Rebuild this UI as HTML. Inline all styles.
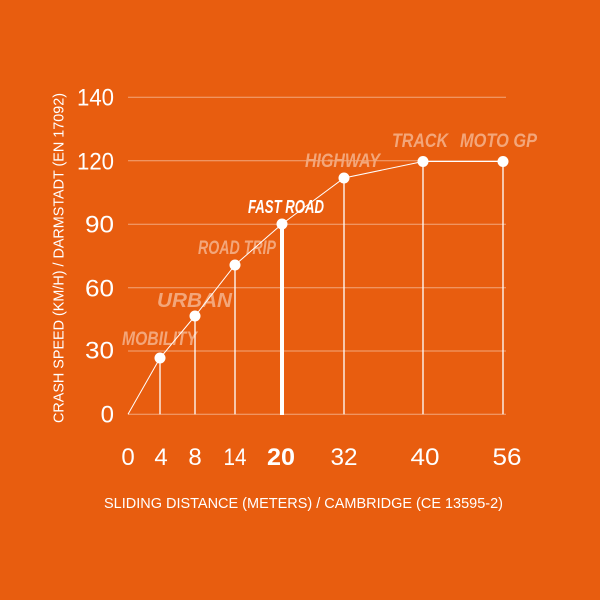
<!DOCTYPE html>
<html><head><meta charset="utf-8"><style>
html,body{margin:0;padding:0;background:#E85D0F;}
svg{display:block;}
</style></head><body>
<svg width="600" height="600" viewBox="0 0 600 600" xmlns="http://www.w3.org/2000/svg">
<rect width="600" height="600" fill="#E85D0F"/>
<g stroke="#ffffff" stroke-opacity="0.45" stroke-width="1">
<line x1="128" y1="97.3" x2="506" y2="97.3"/>
<line x1="128" y1="160.7" x2="506" y2="160.7"/>
<line x1="128" y1="224.3" x2="506" y2="224.3"/>
<line x1="128" y1="287.7" x2="506" y2="287.7"/>
<line x1="128" y1="351" x2="506" y2="351"/>
<line x1="128" y1="414.3" x2="506" y2="414.3"/>
</g>
<g font-family="Liberation Sans, sans-serif" font-size="24" fill="#ffffff" text-anchor="end">
<text x="114" y="105.5" textLength="37" lengthAdjust="spacingAndGlyphs">140</text>
<text x="114" y="169.5" textLength="37" lengthAdjust="spacingAndGlyphs">120</text>
<text x="114" y="232.5" textLength="29" lengthAdjust="spacingAndGlyphs">90</text>
<text x="114" y="296.5" textLength="29" lengthAdjust="spacingAndGlyphs">60</text>
<text x="114" y="358.5" textLength="29" lengthAdjust="spacingAndGlyphs">30</text>
<text x="114" y="422.5">0</text>
</g>
<g font-family="Liberation Sans, sans-serif" font-size="24" fill="#ffffff" text-anchor="middle">
<text x="128" y="465">0</text>
<text x="161" y="465">4</text>
<text x="195" y="465">8</text>
<text x="235" y="465" textLength="23" lengthAdjust="spacingAndGlyphs">14</text>
<text x="281" y="465" font-weight="bold" textLength="28" lengthAdjust="spacingAndGlyphs">20</text>
<text x="344" y="465" textLength="27" lengthAdjust="spacingAndGlyphs">32</text>
<text x="425" y="465" textLength="29" lengthAdjust="spacingAndGlyphs">40</text>
<text x="507" y="465" textLength="29" lengthAdjust="spacingAndGlyphs">56</text>
</g>
<text x="104" y="508" font-family="Liberation Sans, sans-serif" font-size="15" fill="#ffffff" textLength="399" lengthAdjust="spacingAndGlyphs">SLIDING DISTANCE (METERS) / CAMBRIDGE (CE 13595-2)</text>
<text transform="translate(63.5,423) rotate(-90)" x="0" y="0" font-family="Liberation Sans, sans-serif" font-size="15" fill="#ffffff" textLength="330" lengthAdjust="spacingAndGlyphs">CRASH SPEED (KM/H) / DARMSTADT (EN 17092)</text>
<g font-family="Liberation Sans, sans-serif" font-size="19" font-weight="bold" font-style="italic" fill="#F3A67A">
<text x="122" y="345" textLength="75" lengthAdjust="spacingAndGlyphs">MOBILITY</text>
<text x="157" y="307" font-size="20" textLength="75" lengthAdjust="spacingAndGlyphs">URBAN</text>
<text x="198" y="254" textLength="78" lengthAdjust="spacingAndGlyphs">ROAD TRIP</text>
<text x="248" y="213" fill="#ffffff" font-size="18" textLength="76" lengthAdjust="spacingAndGlyphs">FAST ROAD</text>
<text x="305" y="167" textLength="75" lengthAdjust="spacingAndGlyphs">HIGHWAY</text>
<text x="392" y="147" textLength="56" lengthAdjust="spacingAndGlyphs">TRACK</text>
<text x="460" y="147" textLength="77" lengthAdjust="spacingAndGlyphs">MOTO GP</text>
</g>
<polyline points="128,414.3 160,358 195,316 235,265 282,224 344,178 423,161.5 503,161.5" fill="none" stroke="#ffffff" stroke-width="1"/>
<g stroke="#ffffff" stroke-width="1.3">
<line x1="160" y1="358" x2="160" y2="414.3"/>
<line x1="195" y1="316" x2="195" y2="414.3"/>
<line x1="235" y1="265" x2="235" y2="414.3"/>
<line x1="344" y1="178" x2="344" y2="414.3"/>
<line x1="423" y1="161.5" x2="423" y2="414.3"/>
<line x1="503" y1="161.5" x2="503" y2="414.3"/>
</g>
<line x1="282" y1="224" x2="282" y2="415" stroke="#ffffff" stroke-width="4"/>
<g fill="#ffffff">
<circle cx="160" cy="358" r="5.5"/>
<circle cx="195" cy="316" r="5.5"/>
<circle cx="235" cy="265" r="5.5"/>
<circle cx="282" cy="224" r="5.5"/>
<circle cx="344" cy="178" r="5.5"/>
<circle cx="423" cy="161.5" r="5.5"/>
<circle cx="503" cy="161.5" r="5.5"/>
</g>
</svg>
</body></html>
